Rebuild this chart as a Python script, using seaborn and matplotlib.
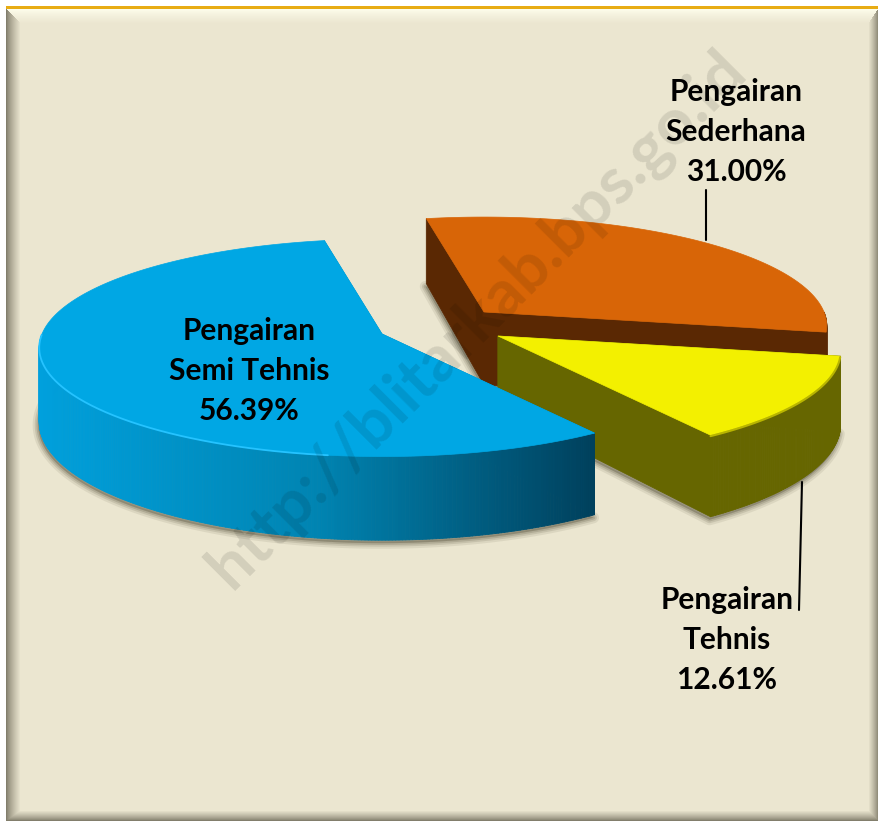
"""
Exploded 3D style pie of irrigation types, with a bevelled panel behind it.
"""

import matplotlib

matplotlib.use("Agg")
import matplotlib.pyplot as plt
import numpy as np
import seaborn as sns
from matplotlib.collections import PolyCollection
from matplotlib.patches import Polygon

categories = ["Pengairan\nSederhana", "Pengairan\nSemi Tehnis", "Pengairan\nTehnis"]
shares = [31.00, 56.39, 12.61]
top_colors = ["#d86507", "#00a7e4", "#f3f000"]
side_colors = ["#5a2803", "#0090c4", "#666600"]
watermark = "http://blitarkab.bps.go.id"

W, H = 879, 821
BG = np.array([235, 230, 208]) / 255

# layout of the fake 3D pie, in pixels
apexes = [(484, 312), (382, 334), (498, 336)]
label_pos = [(736, 132), (249, 371), (727, 640)]
RX, RY, PERSP, DEPTH = 340, 107, 0.127, 73
START_ANGLE = -10.6


def project(apex, t):
    """Angle in degrees to pixel position on a slice rim, with a depth scale."""
    t = np.radians(t)
    s = 1 / (1 + PERSP * np.sin(t))
    return apex[0] + RX * np.cos(t) * s, apex[1] - RY * np.sin(t) * s, s


def panel_image():
    """Beige panel with dark left, right, bottom bevels and a light top bevel."""
    img = np.ones((H, W, 3))
    yy, xx = np.mgrid[0:H, 0:W]
    left, right = (xx - 6) / 14, (W - 1 - xx) / 10
    top, bottom = (yy - 8) / 15, (H - 1 - yy) / 10
    stack = np.stack([left, right, top, bottom])
    near = stack.argmin(axis=0)
    frac = np.clip(stack.min(axis=0), 0, 1)[..., None] ** 0.8
    dark = np.array([130, 126, 108]) / 255
    light = np.array([255, 255, 238]) / 255
    edge = np.where((near == 2)[..., None], light, dark)
    panel = edge * (1 - frac) + BG * frac
    inside = (xx >= 6) & (yy >= 8)
    img[inside] = panel[inside]
    img[6:9, 6:] = np.array([232, 172, 20]) / 255
    return img


def add_shadow(ax, pts):
    for lw, alpha in [(8, 0.12), (5, 0.18), (2.5, 0.25)]:
        ax.add_patch(
            Polygon(
                pts + np.array([-1, 3]),
                closed=True,
                facecolor="#6b6650",
                edgecolor="#6b6650",
                lw=lw,
                alpha=alpha,
                joinstyle="round",
                zorder=2,
            )
        )


def draw_slice(ax, apex, t0, t1, top, side, ramp=None):
    ts = np.arange(t0, t1, 0.5).tolist() + [t1]
    rim = np.array([project(apex, t) for t in ts])
    top_pts = np.vstack([[apex], rim[:, :2]])
    bottom_pts = np.vstack(
        [[(apex[0], apex[1] + DEPTH)], rim[:, :2] + np.c_[np.zeros(len(rim)), DEPTH * rim[:, 2]]]
    )
    add_shadow(ax, bottom_pts)

    quads, colors = [], []
    # flat cut faces
    for t in (t0, t1):
        x, y, s = project(apex, t)
        quads.append(
            [apex, (x, y), (x, y + DEPTH * s), (apex[0], apex[1] + DEPTH)]
        )
        colors.append(side)
    # outer wall, split in strips so a colour ramp can run along it
    for i in range(len(rim) - 1):
        if np.sin(np.radians(ts[i] + 0.25)) > 0:
            continue
        x0, y0, s0 = rim[i]
        x1, y1, s1 = rim[i + 1]
        quads.append(
            [(x0, y0), (x1, y1), (x1, y1 + DEPTH * s1), (x0, y0 + DEPTH * s0)]
        )
        if ramp is None:
            colors.append(side)
        else:
            colors.append(ramp(x0))
    ax.add_collection(
        PolyCollection(quads, facecolors=colors, edgecolors=colors, lw=0.6, zorder=3)
    )
    ax.add_patch(Polygon(top_pts, closed=True, facecolor=top, edgecolor=top, lw=0.5, zorder=3))
    return rim, ts


sns.set_theme(style="white")
fig, ax = plt.subplots(figsize=(W / 100, H / 100), dpi=100)
ax.set_position([0, 0, 1, 1])
ax.imshow(panel_image(), extent=(0, W, H, 0), aspect="auto", zorder=0)
ax.set_xlim(0, W)
ax.set_ylim(H, 0)
ax.axis("off")

# slice angles follow the shares, counter clockwise from the start angle
edges = START_ANGLE + np.cumsum([0] + shares) * 3.6

blue_ramp = sns.blend_palette(["#00a0dd", "#0084b2", "#00405c"], 256)


def ramp(x):
    return blue_ramp[int(np.clip((x - 37) / (593 - 37), 0, 1) * 255)]


for i in [0, 2, 1]:
    t0, t1 = edges[i], edges[i + 1]
    rim, ts = draw_slice(
        ax, apexes[i], t0, t1, top_colors[i], side_colors[i], ramp if i == 1 else None
    )
    if i == 1:
        # highlight only on the lit left part of the rim
        keep = (np.sin(np.radians(ts)) < 0) & (rim[:, 0] < 330)
        ax.plot(rim[keep, 0], rim[keep, 1], color="#25c3ff", lw=1.3, zorder=3)
    if i == 2:
        ax.plot(rim[:, 0], rim[:, 1] + 1, color="#b9b500", lw=1.5, zorder=3)

# leader lines
ax.plot([706, 706], [190, 240], color="black", lw=1.5, zorder=4)
ax.plot([802, 799], [482, 610], color="black", lw=1.5, zorder=4)

ax.text(
    478,
    320,
    watermark,
    rotation=45,
    rotation_mode="anchor",
    ha="center",
    va="center",
    fontsize=47,
    fontfamily="Lato",
    fontweight="bold",
    color="black",
    alpha=0.1,
    zorder=5,
)

for cat, share, (x, y) in zip(categories, shares, label_pos):
    ax.text(
        x,
        y,
        f"{cat}\n{share:.2f}%",
        ha="center",
        va="center",
        fontsize=21.5,
        fontfamily="Lato",
        fontweight="bold",
        color="black",
        linespacing=1.53,
        zorder=6,
    )

plt.savefig("out.png", dpi=100)
plt.close()
